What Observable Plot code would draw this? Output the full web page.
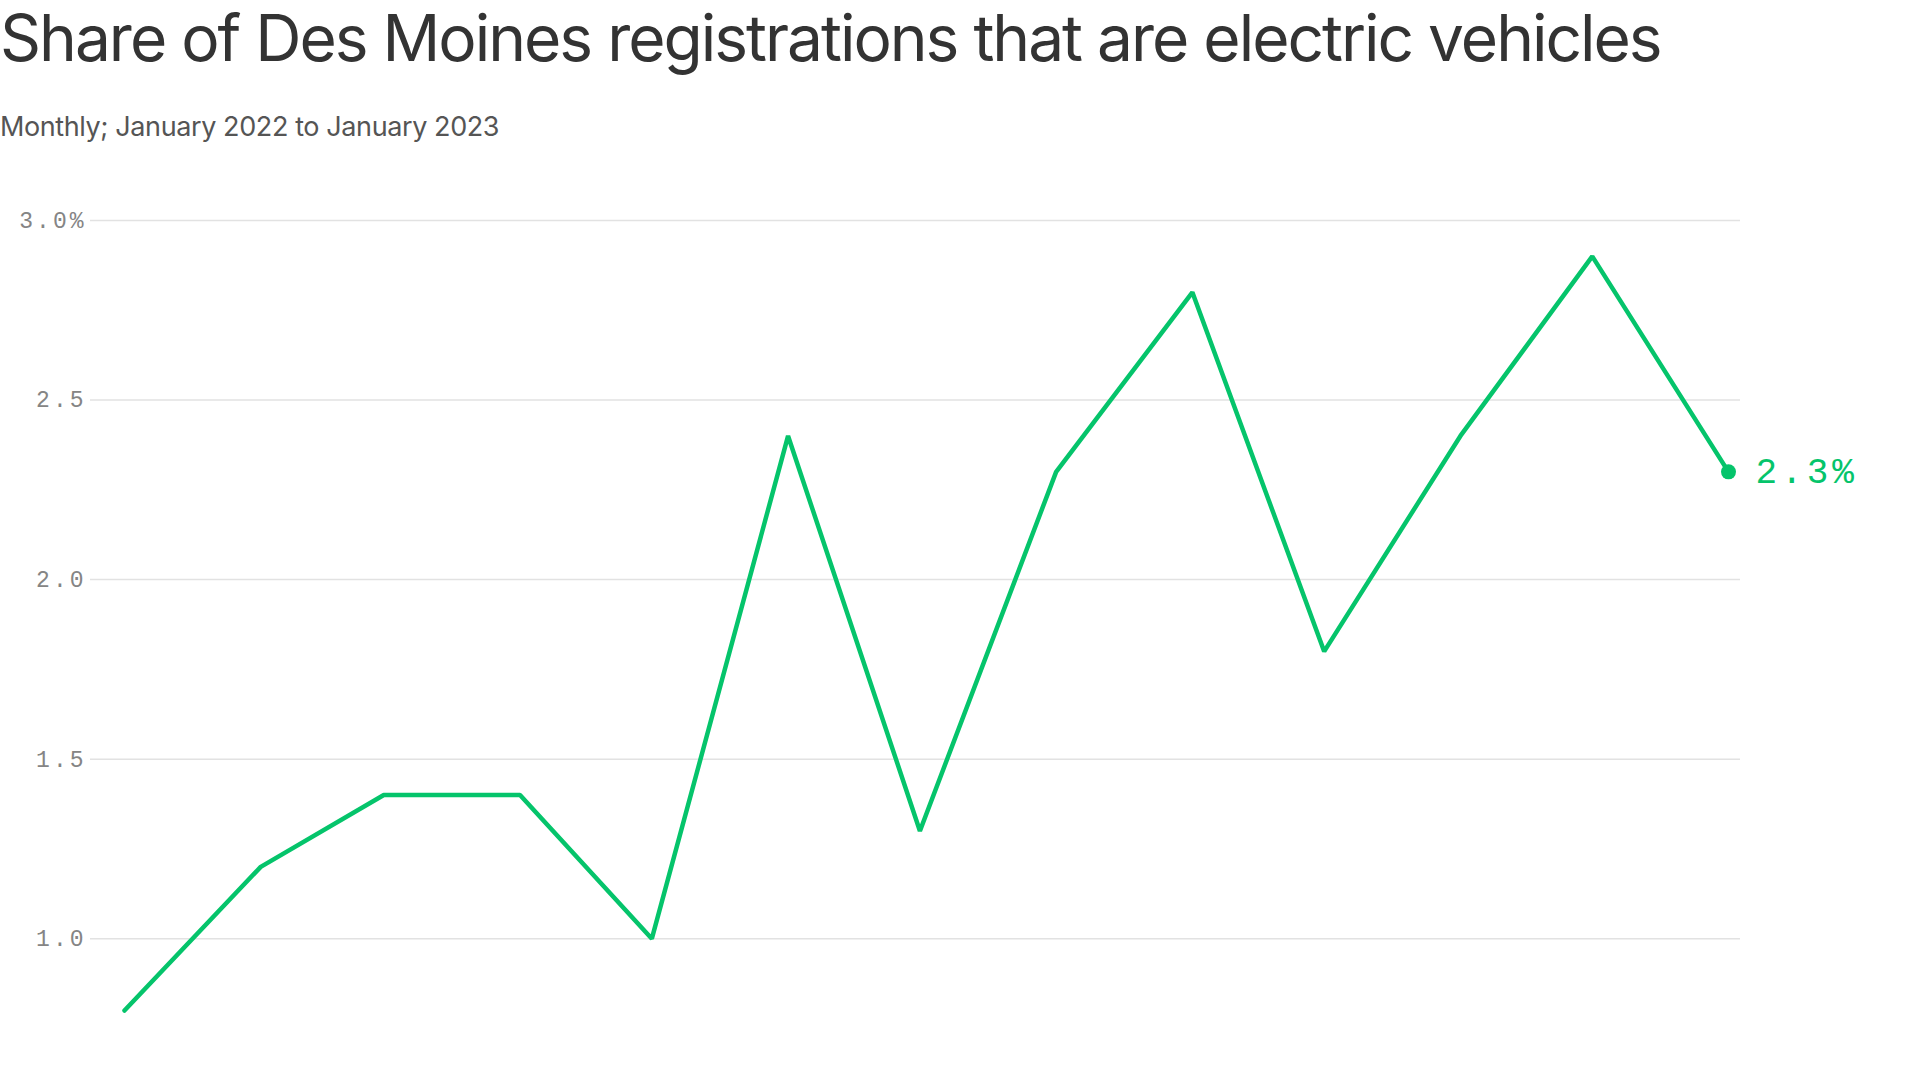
<!DOCTYPE html>
<html>
<head>
<meta charset="utf-8">
<script src="https://cdn.jsdelivr.net/npm/d3@7"></script>
<script src="https://cdn.jsdelivr.net/npm/@observablehq/plot@0.6"></script>
<style>
  html, body { margin: 0; padding: 0; background: #fff; width: 1920px; height: 1080px; overflow: hidden; }
  #title { position: absolute; left: 0; top: 6px; font-family: Inter, sans-serif; font-size: 64px; line-height: 64px; color: #333; letter-spacing: -2px; white-space: nowrap; }
  #subtitle { position: absolute; left: 0; top: 113px; font-family: Inter, sans-serif; font-size: 27px; line-height: 27px; color: #555; letter-spacing: -0.4px; white-space: nowrap; }
  #chart { position: absolute; left: 0; top: 170px; }
  g[aria-label="y-axis tick label"] text { letter-spacing: 3px; }
  g[aria-label="text"] text { letter-spacing: 4px; }
</style>
</head>
<body>
<div id="title">Share of Des Moines registrations that are electric vehicles</div>
<div id="subtitle">Monthly; January 2022 to January 2023</div>
<div id="chart"></div>
<script>
const months = ["2022-01-01","2022-02-01","2022-03-01","2022-04-01","2022-05-01","2022-06-01","2022-07-01","2022-08-01","2022-09-01","2022-10-01","2022-11-01","2022-12-01","2023-01-01"];
const evShare = [0.8, 1.2, 1.4, 1.4, 1.0, 2.4, 1.3, 2.3, 2.8, 1.8, 2.4, 2.9, 2.3];
const yTicks = [1.0, 1.5, 2.0, 2.5, 3.0];
const yTickLabels = ["1.0", "1.5", "2.0", "2.5", "3.0%"];

const green = "#05c46b";
const mono = "'Liberation Mono', 'DejaVu Sans Mono', monospace";
const data = months.map((m, i) => ({date: new Date(m), value: evShare[i]}));
const last = [data[data.length - 1]];

const chart = Plot.plot({
  width: 1920,
  height: 910,
  marginTop: 50,
  marginBottom: 70,
  marginLeft: 90,
  marginRight: 180,
  x: {type: "utc", domain: [data[0].date, data[data.length - 1].date], insetLeft: 34, insetRight: 12, axis: null},
  y: {domain: [0.8, 3.0], axis: null},
  marks: [
    Plot.ruleY(yTicks, {stroke: "#e2e2e2", strokeWidth: 1.5}),
    Plot.axisY({ticks: yTicks, tickSize: 0, tickPadding: 4, anchor: "left", label: null,
      tickFormat: d => yTickLabels[yTicks.indexOf(d)],
      fontFamily: mono, fontSize: 23, fill: "#858585"}),
    Plot.line(data, {x: "date", y: "value", stroke: green, strokeWidth: 4.5, strokeLinejoin: "miter"}),
    Plot.dot(last, {x: "date", y: "value", r: 7.5, fill: green}),
    Plot.text(last, {x: "date", y: "value", text: d => d.value.toFixed(1) + "%", dx: 27, textAnchor: "start",
      fill: green, fontSize: 36, fontFamily: mono})
  ]
});
document.getElementById("chart").appendChild(chart);
</script>
</body>
</html>
